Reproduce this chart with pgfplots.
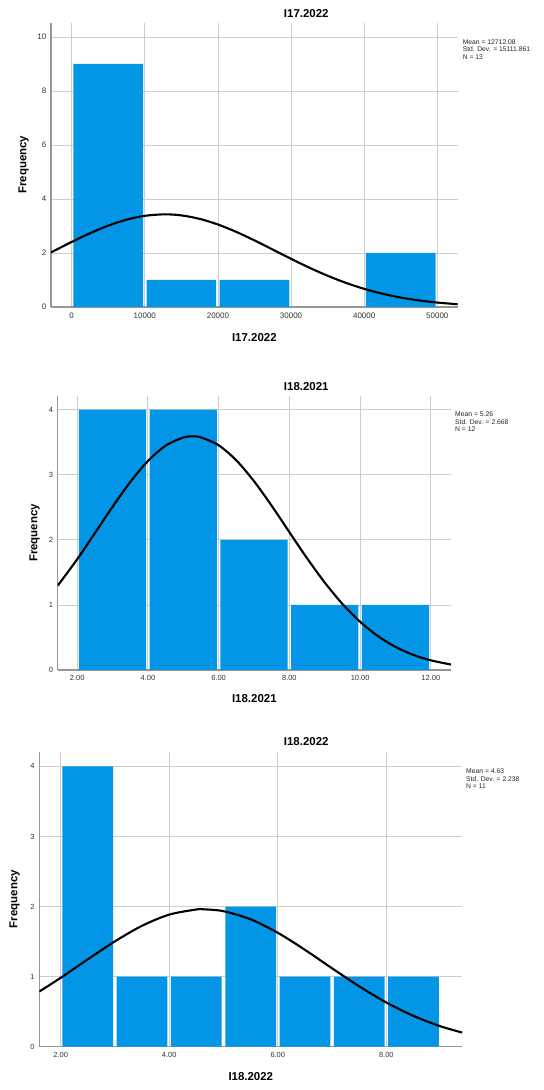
\documentclass[border=0pt]{standalone}
\usepackage{fontspec}
\setmainfont{Liberation Sans}
\usepackage{pgfplots}
\pgfplotsset{compat=1.18}
\definecolor{barblue}{RGB}{3,150,230}
\definecolor{gridgray}{RGB}{205,205,205}
\definecolor{axisgray}{RGB}{150,150,150}
\definecolor{ticktext}{RGB}{50,50,50}

\tikzset{stats/.style={anchor=north west, align=left, inner sep=0pt, text=black!85,
    font=\fontsize{6.8}{7.8}\selectfont}}

\pgfplotsset{
  spss/.style={
    scale only axis, anchor=south west,
    axis x line*=bottom, axis y line*=left,
    axis line style={-, draw=axisgray, line width=1.2bp},
    x axis line style={-}, y axis line style={-},
    grid=major, grid style={draw=gridgray, line width=0.8bp},
    major tick length=0pt, tick style={draw=none},
    /pgf/number format/assume math mode=true,
    scaled x ticks=false, scaled y ticks=false,
    enlargelimits=false, ymin=0,
    tick label style={text=ticktext},
    xticklabel style={inner sep=0pt, yshift=-5.5bp},
    yticklabel style={inner sep=0pt, xshift=-4.5bp},
    label style={font=\fontsize{11.5}{13}\selectfont\bfseries},
    title style={font=\fontsize{11.5}{13}\selectfont\bfseries, anchor=center},
    ylabel={Frequency},
    clip mode=individual,
  },
}

\begin{document}
\begin{tikzpicture}
\path[use as bounding box] (0,0) rectangle (544bp,1090bp);

% ---------------- Panel 1 ----------------
\begin{axis}[spss,
  at={(51bp,783bp)}, width=406.7bp, height=284.3bp,
  xmin=-2830, xmax=52790, ymax=10.53,
  xtick={0,10000,20000,30000,40000,50000},
  xticklabels={0,10000,20000,30000,40000,50000},
  ytick={0,2,4,6,8,10}, yticklabels={0,2,4,6,8,10},
  tick label style={font=\fontsize{8}{9}\selectfont},
  title={I17.2022},
  title style={at={(axis description cs:0.6277,1)}, yshift=3.4bp},
  xlabel={I17.2022},
  xlabel style={at={(axis description cs:0.5,0)}, anchor=center, yshift=-30.3bp},
  ylabel style={at={(axis description cs:-0.0674,0.5)}, anchor=center},
]
\addplot[ybar, bar width=9530, fill=barblue, draw=none]
  coordinates {(5000,9) (15000,1) (25000,1) (45000,2)};
\addplot[black, line width=2.1bp, smooth] coordinates {
  (-2830,2.022) (0,2.409) (2500,2.731) (5000,3.013) (7500,3.234) (10000,3.377)
  (12712,3.432) (15000,3.393) (17500,3.264) (20000,3.055) (22500,2.783)
  (25000,2.466) (27500,2.126) (30000,1.784) (32500,1.456) (35000,1.157)
  (37500,0.894) (40000,0.672) (42500,0.492) (45000,0.350) (47500,0.243)
  (50000,0.164) (52790,0.102)};
\node[stats] at (rel axis cs:1.012,0.942) {Mean = 12712.08\\Std. Dev. = 15111.861\\N = 13};
\end{axis}

% ---------------- Panel 2 ----------------
\begin{axis}[spss,
  at={(57.7bp,420bp)}, width=393.3bp, height=274bp,
  xmin=1.45, xmax=12.57, ymax=4.21,
  xtick={2,4,6,8,10,12},
  xticklabels={2.00,4.00,6.00,8.00,10.00,12.00},
  ytick={0,1,2,3,4}, yticklabels={0,1,2,3,4},
  tick label style={font=\fontsize{7.5}{9}\selectfont},
  title={I18.2021},
  title style={at={(axis description cs:0.632,1)}, yshift=3.3bp},
  xlabel={I18.2021},
  xlabel style={at={(axis description cs:0.5,0)}, anchor=center, yshift=-28.3bp},
  ylabel style={at={(axis description cs:-0.0587,0.5)}, anchor=center},
]
\addplot[ybar, bar width=1.9, fill=barblue, draw=none]
  coordinates {(3,4) (5,4) (7,2) (9,1) (11,1)};
\addplot[black, line width=2.1bp, smooth] coordinates {
  (1.45,1.295) (2,1.701) (2.5,2.102) (3,2.507) (3.5,2.887) (4,3.210)
  (4.5,3.446) (5,3.572) (5.26,3.589) (5.5,3.574) (6,3.453) (6.5,3.221)
  (7,2.901) (7.5,2.523) (8,2.118) (8.5,1.717) (9,1.344) (9.5,1.015)
  (10,0.741) (10.5,0.522) (11,0.355) (11.5,0.233) (12,0.148) (12.57,0.084)};
\node[stats] at (rel axis cs:1.0102,0.9434) {Mean = 5.26\\Std. Dev. = 2.668\\N = 12};
\end{axis}

% ---------------- Panel 3 ----------------
\begin{axis}[spss,
  at={(39.3bp,43.3bp)}, width=423bp, height=295bp,
  xmin=1.606, xmax=9.40, ymax=4.21,
  xtick={2,4,6,8},
  xticklabels={2.00,4.00,6.00,8.00},
  ytick={0,1,2,3,4}, yticklabels={0,1,2,3,4},
  tick label style={font=\fontsize{7.5}{9}\selectfont},
  title={I18.2022},
  title style={at={(axis description cs:0.631,1)}, yshift=4bp},
  xlabel={I18.2022},
  xlabel style={at={(axis description cs:0.5,0)}, anchor=center, yshift=-30bp},
  ylabel style={at={(axis description cs:-0.0584,0.5)}, anchor=center},
]
\addplot[ybar, bar width=0.935, fill=barblue, draw=none]
  coordinates {(2.5,4) (3.5,1) (4.5,1) (5.5,2) (6.5,1) (7.5,1) (8.5,1)};
\addplot[black, line width=2.1bp, smooth] coordinates {
  (1.606,0.787) (2,0.983) (2.5,1.247) (3,1.504) (3.5,1.726) (4,1.885)
  (4.5,1.958) (4.63,1.961) (5,1.934) (5.5,1.818) (6,1.626) (6.5,1.383)
  (7,1.119) (7.5,0.862) (8,0.631) (8.5,0.440) (9,0.291) (9.4,0.202)};
\node[stats] at (rel axis cs:1.0088,0.943) {Mean = 4.63\\Std. Dev. = 2.238\\N = 11};
\end{axis}
\end{tikzpicture}
\end{document}
